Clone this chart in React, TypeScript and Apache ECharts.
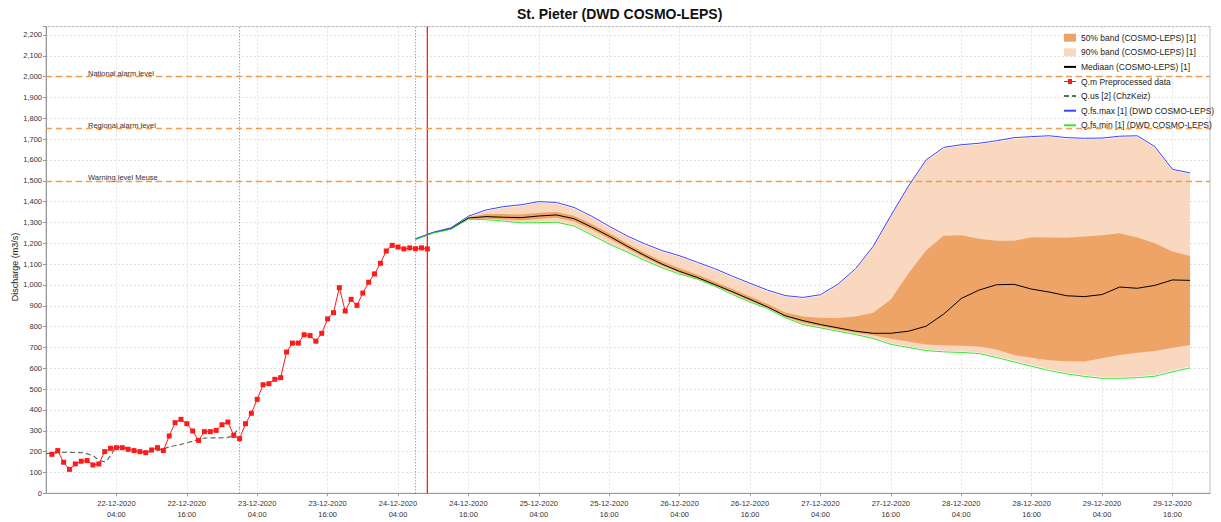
import React, { useEffect, useRef } from "react";
import * as echarts from "echarts";

const FONT = "'Liberation Sans', Arial, sans-serif";

// hours since 21-12-2020 04:00
const xTickHours = [24, 36, 48, 60, 72, 84, 96, 108, 120, 132, 144, 156, 168, 180, 192, 204];

const obsHours = [
  13, 14, 15, 16, 17, 18, 19, 20, 21, 22, 23, 24, 25, 26, 27, 28, 29, 30, 31, 32,
  33, 34, 35, 36, 37, 38, 39, 40, 41, 42, 43, 44, 45, 46, 47, 48, 49, 50, 51, 52,
  53, 54, 55, 56, 57, 58, 59, 60, 61, 62, 63, 64, 65, 66, 67, 68, 69, 70, 71, 72,
  73, 74, 75, 76, 77,
];
const obsValues = [
  187, 205, 149, 115, 141, 154, 157, 136, 141, 200, 216, 219, 219, 211, 205, 200, 195, 208, 219, 205,
  275, 339, 355, 334, 299, 254, 296, 296, 302, 329, 342, 278, 262, 334, 384, 451, 521, 526, 547, 555,
  678, 721, 721, 761, 757, 730, 768, 837, 867, 987, 875, 931, 902, 961, 1013, 1053, 1104, 1163, 1190, 1182,
  1173, 1178, 1174, 1178, 1173,
];

const usHours = [12, 15, 18, 20, 21, 22, 23, 24, 25, 27, 29, 31, 33, 35, 37, 39, 41, 43, 44, 45];
const usValues = [190, 196, 195, 180, 160, 152, 180, 220, 222, 205, 198, 205, 222, 235, 250, 265, 266, 268, 285, 315];

const fcHours = [
  75, 78, 81, 84, 87, 90, 93, 96, 99, 102, 105, 108, 111, 114, 117, 120, 123, 126, 129, 132,
  135, 138, 141, 144, 147, 150, 153, 156, 159, 162, 165, 168, 171, 174, 177, 180, 183, 186, 189, 192,
  195, 198, 201, 204, 207,
];
const fcMax = [
  1222, 1253, 1274, 1330, 1360, 1376, 1385, 1400, 1396, 1372, 1330, 1282, 1236, 1198, 1165, 1140, 1109, 1078, 1042, 1008,
  975, 949, 940, 953, 1004, 1078, 1186, 1333, 1474, 1600, 1660, 1673, 1680, 1692, 1707, 1712, 1716, 1707, 1704, 1705,
  1714, 1716, 1664, 1555, 1538,
];
const fcMedian = [
  1220, 1251, 1270, 1321, 1328, 1325, 1323, 1331, 1336, 1318, 1278, 1234, 1187, 1142, 1100, 1065, 1036, 1002, 967, 931,
  894, 852, 829, 810, 794, 778, 768, 768, 778, 802, 860, 935, 975, 1001, 1003, 980, 966, 948, 944, 954,
  990, 984, 998, 1024, 1022,
];
const fcMin = [
  1218, 1249, 1267, 1316, 1313, 1307, 1298, 1299, 1301, 1283, 1240, 1196, 1158, 1119, 1082, 1052, 1028, 994, 954, 918,
  886, 843, 810, 794, 778, 762, 743, 715, 700, 685, 679, 676, 671, 652, 631, 610, 589, 573, 561, 552,
  552, 555, 562, 583, 602,
];
const band50Hi = [
  1221, 1252, 1272, 1326, 1340, 1340, 1338, 1346, 1350, 1332, 1292, 1248, 1200, 1155, 1114, 1080, 1050, 1015, 980, 944,
  908, 868, 848, 842, 841, 848, 866, 930, 1055, 1165, 1236, 1238, 1222, 1212, 1212, 1229, 1228, 1227, 1232, 1238,
  1248, 1228, 1200, 1160, 1139,
];
const band50Lo = [
  1219, 1250, 1268, 1318, 1318, 1314, 1311, 1317, 1322, 1305, 1266, 1222, 1176, 1132, 1092, 1058, 1030, 997, 960, 924,
  890, 847, 818, 802, 786, 770, 758, 742, 728, 714, 710, 708, 705, 690, 664, 650, 638, 634, 632, 648,
  664, 675, 683, 698, 712,
];
const band90Hi = [
  1221, 1252, 1272, 1326, 1354, 1370, 1379, 1394, 1390, 1366, 1324, 1276, 1230, 1192, 1159, 1134, 1103, 1072, 1036, 1002,
  969, 943, 934, 947, 998, 1072, 1180, 1327, 1468, 1594, 1654, 1667, 1674, 1686, 1701, 1706, 1710, 1701, 1698, 1699,
  1708, 1710, 1658, 1549, 1532,
];
const band90Lo = [
  1219, 1250, 1268, 1317, 1316, 1310, 1301, 1302, 1304, 1286, 1243, 1199, 1161, 1122, 1085, 1055, 1029, 997, 957, 921,
  889, 846, 813, 797, 781, 765, 746, 720, 705, 690, 684, 681, 676, 658, 637, 616, 595, 579, 567, 558,
  558, 561, 568, 589, 608,
];

const thresholds = [
  { name: "National alarm level", value: 2000 },
  { name: "Regional alarm level", value: 1750 },
  { name: "Warning level Meuse", value: 1500 },
];
const dottedMarkers = [45, 75];
const forecastTime = 77;
const Y_MIN = 0;
const Y_MAX = 2240;

const NAMES = {
  b50: "50% band (COSMO-LEPS) [1]",
  b90: "90% band (COSMO-LEPS) [1]",
  med: "Mediaan (COSMO-LEPS) [1]",
  qm: "Q.m Preprocessed data",
  qus: "Q.us [2] (ChzKeiz)",
  max: "Q.fs.max [1] (DWD COSMO-LEPS)",
  min: "Q.fs.min [1] (DWD COSMO-LEPS)",
};

const COLORS = {
  b50: "#eea466",
  b90: "#f9d8bf",
  med: "#000000",
  qm: "#ff1a1a",
  qus: "#5f6f58",
  max: "#4040ff",
  min: "#33e633",
  thr: "#f39a4c",
  now: "#ff2020",
  dot: "#777777",
};

function fmtHour(h: number) {
  const t = 4 + h;
  const day = 21 + Math.floor(t / 24);
  const hr = t % 24;
  return `${day}-12-2020\n${String(hr).padStart(2, "0")}:00`;
}

const pairs = (xs: number[], ys: number[]) => xs.map((x, i) => [x, ys[i]]);

function bandSeries(name: string, hi: number[], lo: number[], color: string, z: number) {
  return {
    type: "custom",
    name,
    coordinateSystem: "cartesian2d",
    silent: true,
    clip: true,
    z,
    itemStyle: { color },
    data: fcHours.map((h, i) => [h, lo[i], hi[i]]),
    encode: { x: 0, y: [1, 2] },
    renderItem: (params: any, api: any) => {
      if (params.dataIndex !== 0) return null;
      const top = fcHours.map((h, i) => api.coord([h, hi[i]]));
      const bottom = fcHours.map((h, i) => api.coord([h, lo[i]])).reverse();
      return {
        type: "polygon",
        shape: { points: top.concat(bottom) },
        style: { fill: color, stroke: null },
      };
    },
  };
}

function vLine(id: string, h: number, color: string, type: any, width: number, z: number) {
  return {
    type: "line",
    id,
    name: id,
    symbol: "none",
    silent: true,
    data: [
      [h, Y_MIN],
      [h, Y_MAX],
    ],
    itemStyle: { color },
    lineStyle: { color, type, width },
    z,
  };
}

const QM_ICON = "path://M0,3.5H4V1.5H8V3.5H12V4.5H8V6.5H4V4.5H0Z";

export default function App() {
  const ref = useRef<HTMLDivElement>(null);
  useEffect(() => {
    document.body.style.margin = "0";
    const chart = echarts.init(ref.current!, null, { renderer: "svg" });
    const lineBase = { type: "line", symbol: "none", silent: true };
    const hiddenSym = { opacity: 0 };
    const option: any = {
      animation: false,
      textStyle: { fontFamily: FONT },
      title: {
        text: "St. Pieter (DWD COSMO-LEPS)",
        left: 512,
        top: 2,
        textStyle: { fontSize: 14, fontWeight: "bold", color: "#111", fontFamily: FONT },
      },
      legend: {
        orient: "vertical",
        left: 1058,
        top: 27.7,
        itemWidth: 12,
        itemHeight: 8,
        itemGap: 4.6,
        textStyle: { fontSize: 8.5, color: "#222", fontFamily: FONT, lineHeight: 10 },
        selectedMode: false,
        data: [
          { name: NAMES.b50, icon: "rect", itemStyle: { color: COLORS.b50 } },
          { name: NAMES.b90, icon: "rect", itemStyle: { color: COLORS.b90 } },
          { name: NAMES.med, itemStyle: hiddenSym },
          { name: NAMES.qm, icon: QM_ICON, itemStyle: { color: COLORS.qm } },
          { name: NAMES.qus, itemStyle: hiddenSym },
          { name: NAMES.max, itemStyle: hiddenSym },
          { name: NAMES.min, itemStyle: hiddenSym },
        ],
      },
      grid: {
        left: 46,
        right: 11,
        top: 26.6,
        bottom: 28.7,
        containLabel: false,
        outerBoundsMode: "none",
        show: true,
        borderColor: "#b8b8b8",
        borderWidth: 1,
      },
      xAxis: {
        type: "value",
        min: 12,
        max: 210.4,
        interval: 12,
        axisLine: { show: true, onZero: false, lineStyle: { color: "#999" } },
        axisTick: { show: true, length: 3, lineStyle: { color: "#999" } },
        axisLabel: {
          fontSize: 7.5,
          lineHeight: 11,
          color: "#333",
          margin: 5,
          fontFamily: FONT,
          showMinLabel: false,
          showMaxLabel: false,
          formatter: (v: number) => (xTickHours.indexOf(v) >= 0 ? fmtHour(v) : ""),
        },
        splitLine: { show: true, lineStyle: { color: "#e2e2e2", type: [2, 2] } },
      },
      yAxis: {
        type: "value",
        min: Y_MIN,
        max: Y_MAX,
        interval: 100,
        name: "Discharge (m3/s)",
        nameLocation: "middle",
        nameGap: 27,
        nameMoveOverlap: false,
        nameTextStyle: { fontSize: 9, color: "#222", fontFamily: FONT, padding: [0, 14, 0, 0] },
        axisLine: { show: true, lineStyle: { color: "#999" } },
        axisTick: { show: true, length: 3, lineStyle: { color: "#999" } },
        axisLabel: {
          fontSize: 7.5,
          color: "#333",
          margin: 4,
          fontFamily: FONT,
          formatter: (v: number) => (v % 100 === 0 ? v.toLocaleString("en-US") : ""),
        },
        splitLine: { show: true, lineStyle: { color: "#e2e2e2", type: [2, 2] } },
      },
      series: [
        bandSeries(NAMES.b90, band90Hi, band90Lo, COLORS.b90, 1),
        bandSeries(NAMES.b50, band50Hi, band50Lo, COLORS.b50, 2),
        ...dottedMarkers.map((h, i) => vLine("_dot" + i, h, COLORS.dot, [1, 2], 1, 3)),
        vLine("_now", forecastTime, COLORS.now, "solid", 1.3, 3),
        {
          ...lineBase,
          name: NAMES.med,
          data: pairs(fcHours, fcMedian),
          itemStyle: { color: COLORS.med },
          lineStyle: { color: COLORS.med, width: 1 },
          z: 5,
        },
        {
          type: "line",
          name: NAMES.qm,
          data: pairs(obsHours, obsValues),
          symbol: "rect",
          symbolSize: 5,
          itemStyle: { color: COLORS.qm },
          lineStyle: { color: COLORS.qm, width: 1 },
          z: 7,
          markLine: {
            silent: true,
            symbol: "none",
            animation: false,
            lineStyle: { color: COLORS.thr, type: [6, 4], width: 1.3 },
            label: {
              show: true,
              position: "insideStartTop",
              fontSize: 7.5,
              color: "#333",
              fontFamily: FONT,
              distance: [42, -1],
              formatter: (p: any) => p.name,
            },
            data: thresholds.map((t) => ({ yAxis: t.value, name: t.name })),
          },
        },
        {
          ...lineBase,
          name: NAMES.qus,
          data: pairs(usHours, usValues),
          itemStyle: { color: COLORS.qus },
          lineStyle: { color: COLORS.qus, width: 1.2, type: [5, 3] },
          smooth: 0.3,
          z: 6,
        },
        {
          ...lineBase,
          name: NAMES.max,
          data: pairs(fcHours, fcMax),
          itemStyle: { color: COLORS.max },
          lineStyle: { color: COLORS.max, width: 1 },
          z: 5.5,
        },
        {
          ...lineBase,
          name: NAMES.min,
          data: pairs(fcHours, fcMin),
          itemStyle: { color: COLORS.min },
          lineStyle: { color: COLORS.min, width: 1 },
          z: 6,
        },
      ],
    };
    chart.setOption(option);
    return () => chart.dispose();
  }, []);
  return <div ref={ref} style={{ width: 1221, height: 522 }} />;
}
